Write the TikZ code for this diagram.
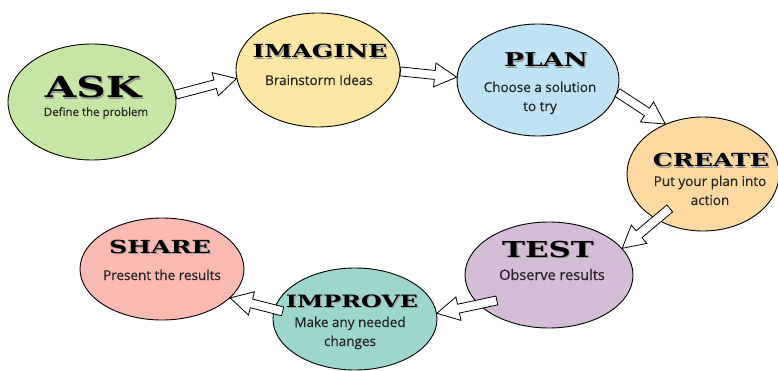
\documentclass[tikz,border=0pt]{standalone}
\usepackage{fontspec}
\setmainfont{Open Sans}[FakeBold=0.6]
\newfontfamily\headfont{DejaVu Serif}[FakeStretch=1.4]
\usetikzlibrary{calc, shapes.geometric}
\definecolor{askgreen}{HTML}{C6E6A6}
\definecolor{imagineyellow}{HTML}{FCE7A5}
\definecolor{planblue}{HTML}{C0E2F5}
\definecolor{createorange}{HTML}{FDD9A2}
\definecolor{testlilac}{HTML}{D5BDD7}
\definecolor{improveteal}{HTML}{9DD6CC}
\definecolor{sharepink}{HTML}{F9BAB1}
\tikzstyle{stage} = [draw, ellipse, line width = 0.9pt, inner sep = 0pt]
\tikzstyle{flow} = [draw, fill = white, line width = 0.8pt, line join = miter]
\tikzstyle{head} = [anchor = base, inner sep = 0pt]
\tikzstyle{body} = [anchor = base, inner sep = 0pt, align = center, text = black!85, font = \fontsize{13.5}{19}\selectfont]
\newcommand{\headline}[2]{{\fontsize{#1}{#1}\selectfont\headfont\bfseries\makebox[0pt][l]{\hspace{1.1pt}\raisebox{-1.1pt}{\color{black!40}#2}}#2}}
\newcommand{\stagearrow}[2]{%
	\coordinate (tl) at (#1);
	\coordinate (tp) at (#2);
	\coordinate (hb) at ($(tp)!22pt!(tl)$);
	\draw[flow] ($(tl)!4.5pt!90:(tp)$) -- ($(hb)!4.5pt!-90:(tl)$) -- ($(hb)!12pt!-90:(tl)$) -- (tp) -- ($(hb)!12pt!90:(tl)$) -- ($(hb)!4.5pt!90:(tl)$) -- ($(tl)!4.5pt!-90:(tp)$) -- cycle;}

\begin{document}
\begin{tikzpicture}[x=1pt, y=-1pt]
		
		\useasboundingbox (0,0) rectangle (778,371);
		
		% Stages
		\node (ask) [stage, fill=askgreen, minimum width=168pt, minimum height=116pt] at (92,102) {};
		\node (imagine) [stage, fill=imagineyellow, minimum width=164pt, minimum height=114pt] at (318,70) {};
		\node (plan) [stage, fill=planblue, minimum width=162pt, minimum height=112pt] at (538,80) {};
		\node (create) [stage, fill=createorange, minimum width=152pt, minimum height=114pt] at (703,174) {};
		\node (test) [stage, fill=testlilac, minimum width=168pt, minimum height=106pt] at (549,275) {};
		\node (improve) [stage, fill=improveteal, minimum width=164pt, minimum height=102pt] at (355,319) {};
		\node (share) [stage, fill=sharepink, minimum width=164pt, minimum height=102pt] at (162,269) {};
		
		% Arrows
		\stagearrow{ask.5}{imagine.186}
		\stagearrow{imagine.359}{plan.178}
		\stagearrow{plan.-9}{create.127}
		\stagearrow{$(create.center)!0.74!(create.226)$}{test.20}
		\stagearrow{$(test.center)!0.78!(test.206)$}{improve.4}
		\stagearrow{$(improve.center)!0.89!(improve.174)$}{share.-23}
		
		% Titles
		\node (ask-title) [head] at (93,98) {\headline{29}{ASK}};
		\node (imagine-title) [head] at (320,58) {\headline{18}{IMAGINE}};
		\node (plan-title) [head] at (546,67) {\headline{19}{PLAN}};
		\node (create-title) [head] at (711,167) {\headline{18}{CREATE}};
		\node (test-title) [head] at (548,257) {\headline{22}{TEST}};
		\node (improve-title) [head] at (352,307) {\headline{17}{IMPROVE}};
		\node (share-title) [head] at (160,253) {\headline{18}{SHARE}};
		
		% Descriptions (base = last line)
		\node (ask-text) [body, font=\fontsize{11.5}{15}\selectfont] at (96,116) {Define the problem};
		\node (imagine-text) [body] at (319,85) {Brainstorm Ideas};
		\node (plan-text) [body] at (540,111) {Choose a solution\\to try};
		\node (create-text) [body] at (710,205) {Put your plan into\\action};
		\node (test-text) [body, font=\fontsize{14.5}{19}\selectfont] at (552,280) {Observe results};
		\node (improve-text) [body] at (350,346) {Make any needed\\changes};
		\node (share-text) [body] at (162,280) {Present the results};
	\end{tikzpicture}
\end{document}
